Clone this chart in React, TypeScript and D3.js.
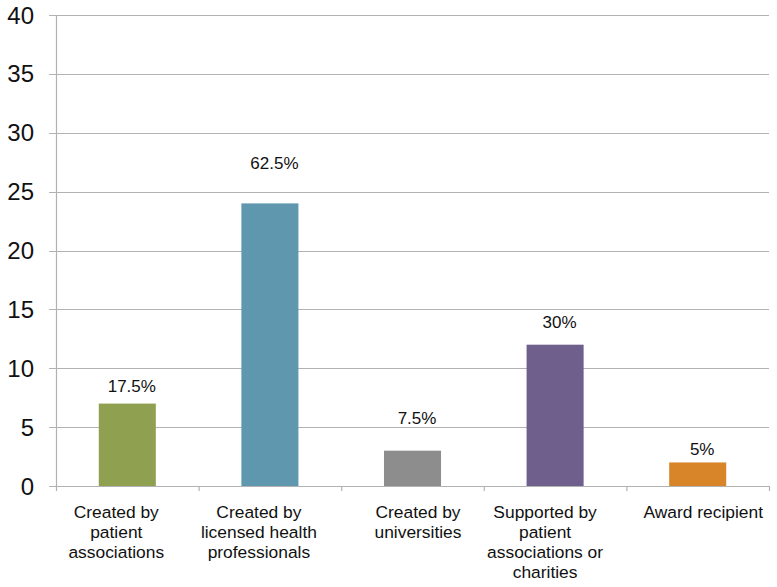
import React from "react";
import * as d3 from "d3";

const categories: string[][] = [
  ["Created by", "patient", "associations"],
  ["Created by", "licensed health", "professionals"],
  ["Created by", "universities"],
  ["Supported by", "patient", "associations or", "charities"],
  ["Award recipient"],
];
const values: number[] = [7, 24, 3, 12, 2];
const valueLabels: string[] = ["17.5%", "62.5%", "7.5%", "30%", "5%"];
// baseline of each value label, in axis units (labels were placed by hand in the source)
const valueLabelAt: number[] = [8.0, 26.9, 5.3, 13.4, 2.6];
const yTicks: number[] = [0, 5, 10, 15, 20, 25, 30, 35, 40];

const colors = ["#8fa151", "#5f97ae", "#8d8d8d", "#6e5f8d", "#d8852a"];
const catLabelNudge = [-11, -11, 5.5, -10, 5.5];

const W = 777;
const H = 587;
const left = 56;
const right = 769;
const top = 15;
const bottom = 486;

export default function App() {
  const x = d3
    .scaleBand<number>()
    .domain(values.map((_, i) => i))
    .range([left, right])
    .paddingInner(0)
    .paddingOuter(0);
  const y = d3.scaleLinear().domain([0, 40]).range([bottom, top]);
  const bw = x.bandwidth();
  const barW = bw * 0.4;
  const font = "'Liberation Sans', Arial, Helvetica, sans-serif";
  const grid = "#b2b2b2";

  return (
    <svg
      width={W}
      height={H}
      style={{ position: "absolute", left: 0, top: 0, background: "#fff" }}
      fontFamily={font}
    >
      {yTicks.map((t) => (
        <g key={t}>
          <line
            x1={left - 7}
            x2={right}
            y1={Math.round(y(t)) + 0.5}
            y2={Math.round(y(t)) + 0.5}
            stroke={grid}
            strokeWidth={1.2}
          />
          <text
            x={34}
            y={y(t)}
            textAnchor="end"
            dominantBaseline="central"
            fontSize={24}
            fill="#111"
          >
            {t}
          </text>
        </g>
      ))}
      <line x1={left + 0.5} x2={left + 0.5} y1={top} y2={bottom + 5} stroke={grid} strokeWidth={1.2} />
      {values.map((_, i) => (
        <line
          key={"t" + i}
          x1={x(i)! + bw + 0.5}
          x2={x(i)! + bw + 0.5}
          y1={bottom}
          y2={bottom + 5}
          stroke={grid}
          strokeWidth={1.2}
        />
      ))}
      {values.map((v, i) => (
        <rect
          key={"b" + i}
          x={x(i)! + (bw - barW) / 2}
          y={y(v)}
          width={barW}
          height={bottom - y(v)}
          fill={colors[i]}
        />
      ))}
      {values.map((_, i) => (
        <text
          key={"v" + i}
          x={x(i)! + bw / 2 + 4.5}
          y={y(valueLabelAt[i])}
          textAnchor="middle"
          fontSize={17}
          fill="#111"
        >
          {valueLabels[i]}
        </text>
      ))}
      {categories.map((lines, i) => (
        <text
          key={"c" + i}
          textAnchor="middle"
          fontSize={17.4}
          fill="#111"
        >
          {lines.map((l, j) => (
            <tspan key={j} x={x(i)! + bw / 2 + catLabelNudge[i]} y={518 + j * 20}>
              {l}
            </tspan>
          ))}
        </text>
      ))}
    </svg>
  );
}
